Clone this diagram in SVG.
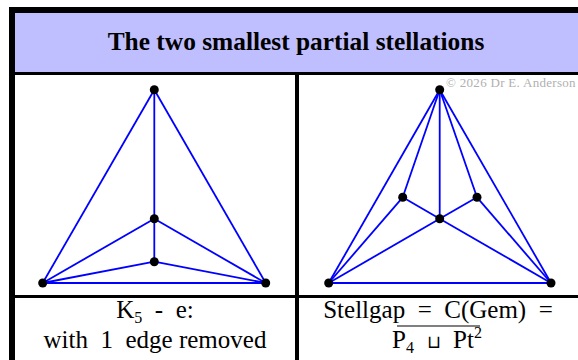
<svg xmlns="http://www.w3.org/2000/svg" width="578" height="360" viewBox="0 0 578 360">
<style>
.ln{stroke:#000;fill:none}
.e{stroke:#0000ff;stroke-width:1.8;fill:none}
.n{fill:#000}
.t{font-family:"Liberation Serif","Times New Roman",serif;fill:#000;white-space:pre}
.cap{font-size:25px;text-anchor:middle}
.cr{font-family:"Liberation Serif",serif;font-size:13px;letter-spacing:0.3px;fill:#b0b0b0}
</style>
<rect width="578" height="360" fill="#fff"/>
<g id="table">
<rect x="12" y="10" width="570" height="63.5" fill="#bfbfff"/>
<line class="ln" x1="9" y1="10" x2="578" y2="10" stroke-width="6"/>
<line class="ln" x1="12" y1="7" x2="12" y2="360" stroke-width="6"/>
<line class="ln" x1="12" y1="73.5" x2="578" y2="73.5" stroke-width="3"/>
<line class="ln" x1="297" y1="73.5" x2="297" y2="360" stroke-width="4"/>
<line class="ln" x1="12" y1="296.5" x2="578" y2="296.5" stroke-width="3"/>
</g>
<g id="title"><text class="t" x="296" y="50" font-size="25.4" font-weight="bold" text-anchor="middle">The two smallest partial stellations</text></g>
<text class="cr" x="446" y="87">© 2026 Dr E. Anderson</text>
<g id="connectors">
<g id="edges-left">
<line class="e" x1="154.3" y1="89.7" x2="42.7" y2="283"/>
<line class="e" x1="154.3" y1="89.7" x2="265.7" y2="283"/>
<line class="e" x1="154.3" y1="89.7" x2="154.3" y2="218.7"/>
<line class="e" x1="154.3" y1="218.7" x2="154.3" y2="261.7"/>
<line class="e" x1="154.3" y1="218.7" x2="42.7" y2="283"/>
<line class="e" x1="154.3" y1="218.7" x2="265.7" y2="283"/>
<line class="e" x1="154.3" y1="261.7" x2="42.7" y2="283"/>
<line class="e" x1="154.3" y1="261.7" x2="265.7" y2="283"/>
<line class="e" x1="42.7" y1="283" x2="265.7" y2="283"/>
</g>
<g id="edges-right">
<line class="e" x1="439.7" y1="89.7" x2="328.7" y2="283"/>
<line class="e" x1="439.7" y1="89.7" x2="551" y2="283"/>
<line class="e" x1="439.7" y1="89.7" x2="439.7" y2="218.7"/>
<line class="e" x1="439.7" y1="89.7" x2="402.7" y2="197.3"/>
<line class="e" x1="439.7" y1="89.7" x2="477" y2="197.3"/>
<line class="e" x1="402.7" y1="197.3" x2="328.7" y2="283"/>
<line class="e" x1="402.7" y1="197.3" x2="439.7" y2="218.7"/>
<line class="e" x1="477" y1="197.3" x2="439.7" y2="218.7"/>
<line class="e" x1="477" y1="197.3" x2="551" y2="283"/>
<line class="e" x1="439.7" y1="218.7" x2="328.7" y2="283"/>
<line class="e" x1="439.7" y1="218.7" x2="551" y2="283"/>
<line class="e" x1="328.7" y1="283" x2="551" y2="283"/>
</g>
</g>
<g id="nodes-left">
<g id="L-top"><circle class="n" cx="154.3" cy="89.7" r="4.5"/></g>
<g id="L-mid"><circle class="n" cx="154.3" cy="218.7" r="4.5"/></g>
<g id="L-low"><circle class="n" cx="154.3" cy="261.7" r="4.5"/></g>
<g id="L-bl"><circle class="n" cx="42.7" cy="283" r="4.5"/></g>
<g id="L-br"><circle class="n" cx="265.7" cy="283" r="4.5"/></g>
</g>
<g id="nodes-right">
<g id="R-top"><circle class="n" cx="439.7" cy="89.7" r="4.5"/></g>
<g id="R-li"><circle class="n" cx="402.7" cy="197.3" r="4.5"/></g>
<g id="R-ri"><circle class="n" cx="477" cy="197.3" r="4.5"/></g>
<g id="R-c"><circle class="n" cx="439.7" cy="218.7" r="4.5"/></g>
<g id="R-bl"><circle class="n" cx="328.7" cy="283" r="4.5"/></g>
<g id="R-br"><circle class="n" cx="551" cy="283" r="4.5"/></g>
</g>
<g id="captions">
<text class="t cap" x="155" y="318">K<tspan font-size="16" dy="5">5</tspan><tspan dy="-5">  -  e:</tspan></text>
<text class="t cap" x="155" y="348">with  1  edge removed</text>
<text class="t cap" x="438" y="318">Stellgap  =  C(Gem)  =</text>
<line x1="397" y1="326" x2="480" y2="326" stroke="#000" stroke-width="1.2"/>
<text class="t cap" x="437" y="348">P<tspan font-size="16" dy="5">4</tspan><tspan dy="-5">  </tspan><tspan font-size="18">⊔</tspan><tspan>  Pt</tspan><tspan font-size="16" dy="-10">2</tspan></text>
</g>
</svg>
